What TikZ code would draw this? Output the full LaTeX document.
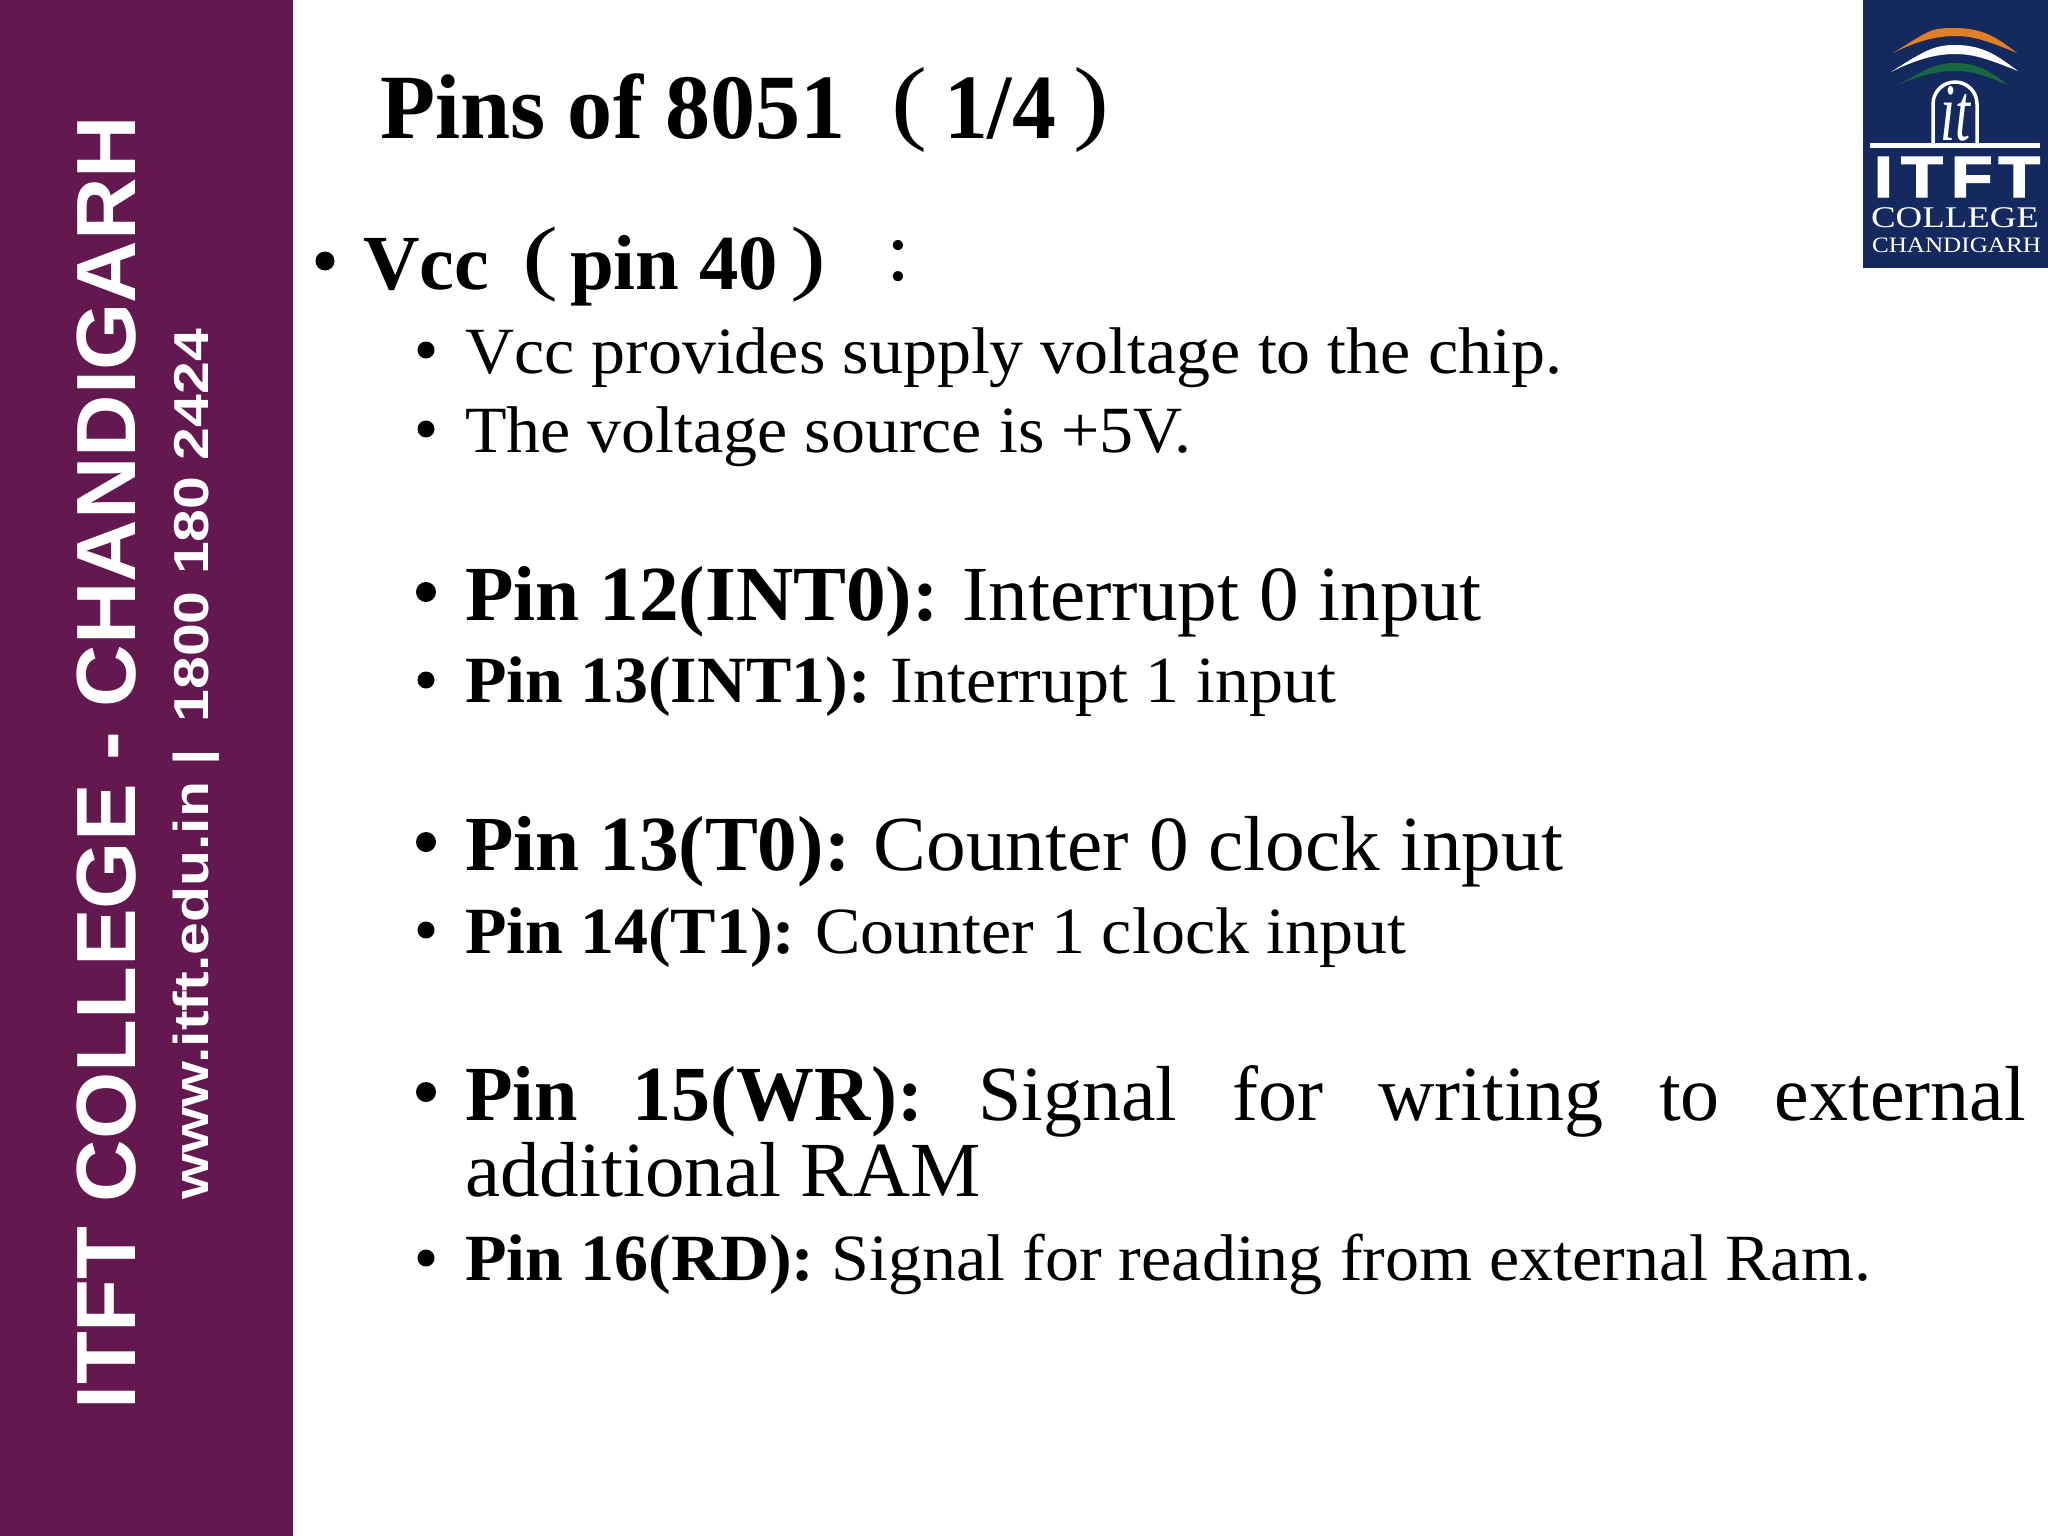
\documentclass[tikz,border=0pt]{standalone}
\usepackage{fontspec}
\setmainfont{Liberation Serif}
\setsansfont{Liberation Sans}
\newfontfamily\heavyf[FakeBold=2.5]{Liberation Sans Bold}
\usetikzlibrary{calc}
\definecolor{side}{HTML}{63184F}
\definecolor{navy}{HTML}{142A5E}
\definecolor{logoor}{HTML}{E07F26}
\definecolor{logogr}{HTML}{17683F}
\newsavebox{\fitbox}
% width-fitted text: horizontally scaled to #1 pt
\newcommand{\fitw}[2]{\sbox{\fitbox}{#2}\pgfmathsetmacro{\fitr}{#1/\the\wd\fitbox}\scalebox{\fitr}[1]{\usebox{\fitbox}}}
\newcommand{\fs}[1]{\fontsize{#1}{#1}\selectfont}
\tikzset{
  txt/.style={anchor=base west,inner sep=0pt,outer sep=0pt,text=black},
  bul/.style={circle,fill=black,inner sep=0pt,minimum size=#1},
  wtxt/.style={inner sep=0pt,outer sep=0pt,text=white},
  tall/.style={anchor=center,inner sep=0pt,outer sep=0pt,text=black},
  arc/.style={fill=#1,draw=none}
}
\begin{document}
\begin{tikzpicture}[x=1pt,y=-1pt]
\useasboundingbox (0,0) rectangle (2048,1536);
\fill[white] (0,0) rectangle (2048,1536);
\fill[side] (0,0) rectangle (293,1536);
% sidebar
\node[wtxt,rotate=90,anchor=base west] (s1) at (135,1409) {\fitw{1293}{\fs{84}\sffamily\bfseries ITFT COLLEGE - CHANDIGARH}};
\node[wtxt,rotate=90,anchor=base west] (s2) at (208,1199) {\fitw{870}{\fs{49}\sffamily\bfseries www.itft.edu.in\ |\, 1800 180 2424}};
% logo
\fill[navy] (1863,0) rectangle (2048,268);
\fill[arc=logoor] (1893,53) .. controls (1930,30) and (1930,28) .. (1955,28) .. controls (1985,28) and (2000,40) .. (2017,53) .. controls (1990,42) and (1975,36) .. (1955,36) .. controls (1935,36) and (1915,42) .. (1893,53) -- cycle;
\fill[white] (1891,72) .. controls (1925,50) and (1935,45) .. (1955,45) .. controls (1985,45) and (2000,58) .. (2018,71) .. controls (1990,60) and (1975,54) .. (1955,54) .. controls (1935,54) and (1915,60) .. (1891,72) -- cycle;
\fill[arc=logogr] (1898,85) .. controls (1925,70) and (1935,63) .. (1955,63) .. controls (1980,63) and (1995,75) .. (2008,85) .. controls (1985,76) and (1975,71) .. (1955,71) .. controls (1935,71) and (1915,77) .. (1898,85) -- cycle;
\draw[white,line width=3.5pt] (1933,143) -- (1933,104) arc[start angle=180,end angle=360,radius=22] -- (1977,143);
\node[wtxt,anchor=center] (lit) at (1955,114) {\resizebox{30pt}{54pt}{\itshape it}};
\fill[white] (1870,143) rectangle (2040,148);
\node[wtxt,anchor=base west] (lg1) at (1874,197) {\fitw{166}{\fs{58}\heavyf I\hspace{7pt}T\hspace{7pt}F\hspace{5pt}T}};
\node[wtxt,anchor=base west] (lg2) at (1871,227) {\fitw{168}{\fs{30}COLLEGE}};
\node[wtxt,anchor=base west] (lg3) at (1872,252) {\fitw{169}{\fs{22}CHANDIGARH}};
% title
\node[txt] (title) at (380,139) {\fitw{466}{\fs{92}\bfseries Pins of 8051}};
\node[tall] (tl) at (909,110) {\resizebox*{36pt}{85pt}{(}};
\node[txt] (tn) at (944,139) {\fitw{112}{\fs{92}\bfseries 1/4}};
\node[tall] (tr) at (1091,110) {\resizebox*{36pt}{85pt}{)}};
% Vcc
\node[bul=19pt] (b0) at (325,261) {};
\node[txt] (h0) at (363,289) {\fitw{126}{\fs{78}\bfseries Vcc}};
\node[tall] (hl) at (541,265) {\resizebox*{36pt}{75pt}{(}};
\node[txt] (h0b) at (570,289) {\fitw{208}{\fs{78}\bfseries pin 40}};
\node[tall] (hr) at (809,265) {\resizebox*{36pt}{75pt}{)}};
\node[tall] (h0c) at (898,261) {\resizebox{24pt}{40pt}{:}};
\node[bul=17pt] (b1) at (426,350) {};
\node[txt] (t1) at (465,373) {\fitw{1097}{\fs{66}Vcc provides supply voltage to the chip.}};
\node[bul=17pt] (b2) at (426,429) {};
\node[txt] (t2) at (465,452) {\fitw{726}{\fs{66}The voltage source is +5V.}};
% INT
\node[bul=20pt] (b3) at (426,592) {};
\node[txt] (t3) at (465,620) {\fitw{1017}{\fs{78}\textbf{Pin 12(INT0):}\hspace{-3pt} Interrupt 0 input}};
\node[bul=17pt] (b4) at (426,680) {};
\node[txt] (t4) at (465,702) {\fitw{871}{\fs{66}\textbf{Pin 13(INT1):}\hspace{-3pt} Interrupt 1 input}};
% T
\node[bul=20pt] (b5) at (426,842) {};
\node[txt] (t5) at (465,870) {\fitw{1098}{\fs{78}\textbf{Pin 13(T0):}\hspace{-3pt} Counter 0 clock input}};
\node[bul=17pt] (b6) at (426,930) {};
\node[txt] (t6) at (465,953) {\fitw{941}{\fs{66}\textbf{Pin 14(T1):}\hspace{-3pt} Counter 1 clock input}};
% WR
\node[bul=20pt] (b7) at (426,1092) {};
\node[txt] (t7) at (465,1120) {\fitw{1561}{\fs{78}\hbox to 1561pt{\textbf{Pin}\hfill\textbf{15(WR):}\hfill Signal\hfill for\hfill writing\hfill to\hfill external}}};
\node[txt] (t7b) at (465,1196) {\fitw{516}{\fs{78}additional RAM}};
\node[bul=17pt] (b8) at (426,1258) {};
\node[txt] (t8) at (465,1280) {\fitw{1406}{\fs{66}\textbf{Pin 16(RD):} Signal for reading from external Ram.}};
\end{tikzpicture}
\end{document}
